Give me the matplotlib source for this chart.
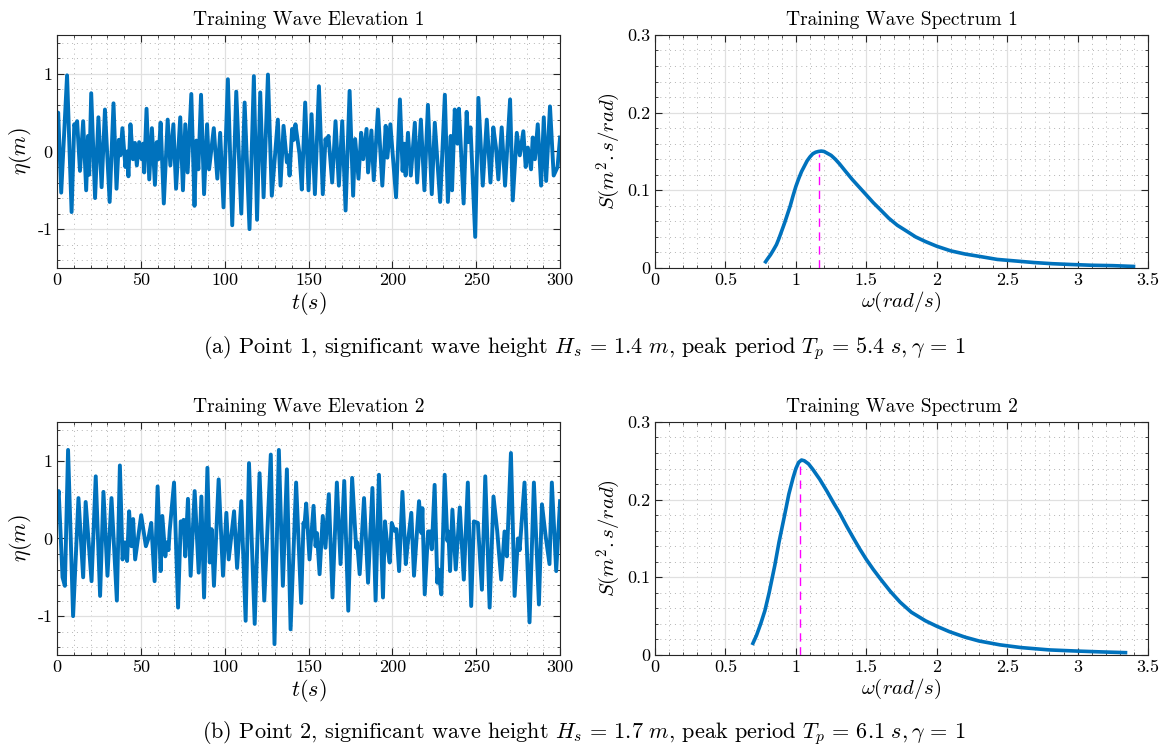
import matplotlib
matplotlib.use("Agg")
import matplotlib.pyplot as plt
from matplotlib.ticker import MultipleLocator

plt.rcParams["font.family"] = ["cmr10", "DejaVu Serif"]
plt.rcParams["mathtext.fontset"] = "cm"
plt.rcParams["axes.unicode_minus"] = False
plt.rcParams["axes.formatter.use_mathtext"] = False

BLUE = "#0072BD"

# wave elevation 1 (turning points)
t1 = [0, 0.7, 2.5, 6, 8.7, 10.3, 11, 12, 13.7, 15.6, 17.4, 18.5, 19.2, 20.4, 22.7,
      24.7, 26.6, 28.6, 31.4, 33.7, 35.5, 36.9, 37.8, 39, 40.8, 41.8, 42.6, 43.8,
      45.3, 46.5, 47.6, 49, 50.5, 51.3, 52, 53.4, 55, 56.6, 58.4, 59.5, 60.5, 61.8,
      63.7, 66, 67.6, 69.4, 71, 73.5, 75.1, 76.5, 77.9, 80.1, 82, 83.1, 84.3, 85.9,
      87.7, 89.5, 90.7, 93.5, 95.6, 97.3, 99.3, 101.9, 104.5, 106.9, 109.9, 111.9,
      114.8, 117.4, 119.3, 121.2, 123.2, 125.8, 128.1, 131.7, 133.3, 135.1, 137.1,
      137.8, 138.7, 140.2, 141.2, 142.2, 144.6, 146, 148, 150, 151.8, 153.8, 156.2,
      158.5, 160.1, 161, 161.9, 164.1, 166.1, 168.1, 170.1, 172.1, 174.5, 176.6,
      177.8, 179.8, 181.4, 182.6, 184.6, 185.5, 187.5, 188.9, 191.4, 194, 196, 197,
      198.8, 202.2, 204.5, 206.1, 207, 207.9, 209.3, 211, 213.4, 214.8, 217, 219.1,
      221.2, 223.5, 225.3, 228.5, 231.3, 233.1, 234.8, 235.6, 237.2, 238.8, 239.7,
      242.5, 244.3, 245.3, 246.6, 249.4, 251.3, 253.9, 256.3, 258.5, 260.2, 261.8,
      263.2, 265.2, 267.2, 270.2, 271.8, 274.2, 276, 278.1, 279.5, 280.8, 282.7,
      283.7, 285, 286.7, 288.7, 290.3, 291.7, 294, 296.2, 298.5, 300]
eta1 = [0.35, 0.5, -0.53, 0.98, -0.78, 0.35, 0.3, 0.39, -0.25, 0.39, -0.5, 0.2, -0.3,
        0.75, -0.6, 0.44, -0.46, 0.54, -0.65, 0.62, -0.48, 0.15, -0.05, 0.3, -0.2, 0.0,
        -0.32, 0.35, -0.1, 0.11, -0.18, 0.12, -0.1, 0.1, -0.27, 0.55, -0.36, 0.3, -0.43,
        0.12, -0.1, 0.37, -0.67, 0.41, -0.18, 0.35, -0.48, 0.44, -0.5, 0.35, -0.27,
        0.74, -0.7, 0.14, -0.23, 0.73, -0.55, 0.35, -0.23, 0.3, -0.35, 0.24, -0.72,
        0.93, -0.95, 0.77, -0.8, 0.63, -1.0, 0.97, -0.88, 0.76, -0.59, 0.99, -0.57,
        0.41, -0.44, 0.33, -0.14, -0.05, -0.31, 0.29, 0.15, 0.35, -0.03, -0.49, 0.63,
        -0.5, 0.48, -0.55, 0.84, -0.55, 0.16, 0.08, 0.2, -0.4, 0.39, -0.44, 0.39,
        -0.76, 0.78, -0.57, 0.16, -0.35, 0.24, -0.1, 0.29, -0.27, 0.27, -0.37, 0.54,
        -0.44, 0.33, -0.08, 0.35, -0.59, 0.67, -0.25, 0.1, -0.31, 0.24, -0.31, 0.37,
        -0.4, 0.41, -0.5, 0.6, -0.55, 0.37, -0.65, 0.73, -0.65, 0.2, -0.5, 0.54, 0.1,
        0.55, -0.67, 0.51, 0.12, 0.31, -1.1, 0.69, -0.44, 0.41, -0.4, 0.31, 0.05,
        -0.36, 0.31, -0.44, 0.67, -0.63, 0.24, -0.05, 0.26, -0.2, 0.05, -0.23, 0.18,
        -0.1, 0.35, -0.44, 0.44, -0.38, 0.58, -0.31, -0.2, 0.18]

# wave elevation 2
t2 = [0, 1, 3.3, 4.7, 6.6, 9.6, 12.8, 15.6, 17.1, 20.6, 23.1, 25.7, 27.7, 30.1, 32.5,
      35.7, 37.5, 39.1, 40.5, 41.8, 43, 44.4, 45.4, 46.6, 50.2, 53, 54.5, 56.2, 58.2,
      60, 61.8, 62.8, 64.6, 65.5, 66.5, 67.2, 69.8, 72.2, 73.8, 74.6, 75.5, 76.5,
      78.1, 79.7, 82.1, 84.5, 86.1, 87.7, 89.7, 91.1, 92.2, 93.6, 96.4, 99, 101,
      102.4, 105.6, 107.4, 109.9, 112.5, 114.5, 117.9, 120.8, 123.6, 127.5, 129.7,
      132.3, 134.7, 137.1, 139.3, 142.6, 145.6, 147, 147.5, 148.6, 150.6, 153, 154.2,
      155, 156.6, 158.5, 160.1, 162.1, 164.3, 166.9, 169.1, 171.3, 173.7, 176, 178.4,
      179, 180.5, 183.1, 185.5, 188.1, 190, 192, 194.4, 195.6, 197, 198.4, 199.6,
      201.2, 202.4, 204, 206, 208, 209, 211.3, 212.9, 215.9, 217.3, 217.9, 219.3,
      221.3, 222.5, 223.5, 225.2, 226.8, 227.5, 229.2, 231.2, 232.8, 233.4, 234.4,
      235.8, 237.8, 240.2, 242.6, 245, 247, 248.6, 251, 253.4, 255.4, 258, 260.3,
      262.5, 264.9, 266.9, 268.3, 270.7, 272.9, 274.9, 275.9, 278.8, 281.8, 284.4,
      287.4, 289.2, 291.4, 293.7, 295.1, 297.7, 300]
eta2 = [0.44, 0.61, -0.5, -0.61, 1.14, -1.0, 0.52, -0.5, 0.47, -0.55, 0.8, -0.74, 0.6,
        -0.48, 0.52, -0.8, 0.94, -0.27, -0.05, -0.29, 0.35, -0.1, 0.25, -0.27, 0.3,
        -0.1, 0.0, 0.2, -0.55, 0.67, -0.42, 0.29, -0.23, -0.05, -0.15, 0.1, 0.72,
        -0.89, 0.22, 0.15, 0.24, -0.23, 0.51, -0.48, 0.61, -0.44, 0.54, -0.76, 0.91,
        -0.31, 0.12, -0.61, 0.76, -0.48, 0.33, -0.27, 0.35, -0.38, 0.48, -1.06, 0.97,
        -1.1, 0.84, -0.8, 1.08, -1.36, 1.14, -0.61, 0.89, -1.17, 0.72, -0.83, 0.2, 0.15,
        0.45, -0.27, 0.42, -0.1, 0.07, -0.46, 0.29, -0.12, 0.57, -0.76, 0.72, -0.33,
        0.74, -0.93, 0.78, -0.12, -0.05, -0.46, 0.52, -0.57, 0.65, -0.8, 0.82, -0.76,
        0.22, -0.1, -0.31, 0.2, 0.1, 0.12, -0.42, 0.6, -0.33, -0.1, 0.33, -0.48, 0.48,
        0.07, 0.39, -0.72, 0.09, 0.09, -0.14, 0.69, -0.57, -0.4, -0.72, 0.82, -0.03,
        0.09, -0.42, 0.37, -0.4, 0.4, -0.53, 0.72, -0.87, 0.22, 0.2, -0.66, 0.8, -0.89,
        0.54, 0.1, -0.53, 0.09, -0.23, 1.1, -0.74, 0.0, -0.15, 0.72, -1.08, 0.72, -0.85,
        0.44, 0.03, -0.33, 0.72, -0.42, 0.48]

# wave spectra
w1 = [0.785, 0.80, 0.82, 0.84, 0.862, 0.88, 0.90, 0.92, 0.94, 0.96, 0.98, 1.00, 1.02,
      1.04, 1.06, 1.08, 1.10, 1.12, 1.14, 1.16, 1.18, 1.20, 1.22, 1.25, 1.28, 1.31,
      1.35, 1.40, 1.45, 1.50, 1.55, 1.60, 1.66, 1.72, 1.79, 1.85, 1.92, 2.00, 2.10,
      2.20, 2.30, 2.43, 2.56, 2.69, 2.82, 2.95, 3.10, 3.25, 3.397]
S1 = [0.008, 0.012, 0.017, 0.023, 0.030, 0.038, 0.048, 0.058, 0.069, 0.080, 0.093,
      0.105, 0.115, 0.124, 0.131, 0.138, 0.143, 0.147, 0.149, 0.150, 0.1505, 0.150,
      0.148, 0.145, 0.140, 0.134, 0.125, 0.114, 0.104, 0.094, 0.084, 0.075, 0.064,
      0.055, 0.047, 0.040, 0.034, 0.028, 0.022, 0.018, 0.015, 0.011, 0.009, 0.007,
      0.0055, 0.0045, 0.0035, 0.003, 0.002]
wp1 = 1.165
Sp1 = 0.147

w2 = [0.695, 0.72, 0.75, 0.78, 0.81, 0.85, 0.88, 0.92, 0.95, 0.98, 1.00, 1.02, 1.04,
      1.06, 1.09, 1.12, 1.17, 1.22, 1.27, 1.31, 1.36, 1.41, 1.455, 1.50, 1.55, 1.60,
      1.67, 1.74, 1.82, 1.92, 2.00, 2.09, 2.20, 2.30, 2.45, 2.60, 2.80, 3.00, 3.16,
      3.34]
S2 = [0.015, 0.025, 0.040, 0.057, 0.080, 0.115, 0.145, 0.180, 0.207, 0.228, 0.240,
      0.248, 0.251, 0.250, 0.246, 0.239, 0.226, 0.211, 0.195, 0.183, 0.166, 0.150,
      0.136, 0.123, 0.110, 0.098, 0.082, 0.068, 0.055, 0.044, 0.037, 0.030, 0.023,
      0.018, 0.013, 0.0095, 0.0065, 0.005, 0.004, 0.003]
wp2 = 1.03
Sp2 = 0.248

captions = [
    r"(a) Point 1, significant wave height $H_s\,=\,1.4\ m$, peak period $T_p\,=\,5.4\ s,\gamma\,=\,1$",
    r"(b) Point 2, significant wave height $H_s\,=\,1.7\ m$, peak period $T_p\,=\,6.1\ s,\gamma\,=\,1$",
]


def style_axes(ax):
    ax.grid(which="major", color="#e0e0e0", linewidth=0.9)
    ax.grid(which="minor", color="#b4b4b4", linestyle=(0, (1, 4)), linewidth=0.7)
    ax.set_axisbelow(True)
    ax.tick_params(which="both", direction="in", top=True, right=True,
                   labelsize=13, colors="#262626")
    ax.tick_params(which="major", length=5)
    ax.tick_params(which="minor", length=2.5)
    for s in ax.spines.values():
        s.set_color("#262626")
        s.set_linewidth(0.8)
    for lab in ax.get_xticklabels() + ax.get_yticklabels():
        lab.set_color("black")


fig = plt.figure(figsize=(11.68, 7.5), dpi=100)

rows = [(t1, eta1, w1, S1, wp1, Sp1, 0.6427), (t2, eta2, w2, S2, wp2, Sp2, 0.1267)]
for i, (t, eta, w, S, wp, Sp, bottom) in enumerate(rows):
    ax = fig.add_axes([0.0488, bottom, 0.4307, 0.3107])
    ax.plot(t, eta, color=BLUE, linewidth=2.8, solid_joinstyle="round")
    ax.set_xlim(0, 300)
    ax.set_ylim(-1.5, 1.5)
    ax.set_xticks([0, 50, 100, 150, 200, 250, 300])
    ax.set_yticks([-1, 0, 1])
    ax.set_yticklabels(["-1", "0", "1"])
    ax.xaxis.set_minor_locator(MultipleLocator(10))
    ax.yaxis.set_minor_locator(MultipleLocator(0.2))
    ax.set_title(f"Training Wave Elevation {i + 1}", fontsize=14, pad=7)
    ax.set_xlabel(r"$t(s)$", fontsize=16, labelpad=1)
    ax.set_ylabel(r"$\eta(m)$", fontsize=16, labelpad=2)
    style_axes(ax)

    ax = fig.add_axes([0.5608, bottom, 0.4221, 0.3107])
    ax.plot(w, S, color=BLUE, linewidth=2.6, solid_joinstyle="round")
    ax.plot([wp, wp], [0, Sp], color="#FF00FF", linestyle=(0, (6, 4)), linewidth=1)
    ax.set_xlim(0, 3.5)
    ax.set_ylim(0, 0.3)
    ax.set_xticks([0, 0.5, 1, 1.5, 2, 2.5, 3, 3.5])
    ax.set_xticklabels(["0", "0.5", "1", "1.5", "2", "2.5", "3", "3.5"])
    ax.set_yticks([0, 0.1, 0.2, 0.3])
    ax.set_yticklabels(["0", "0.1", "0.2", "0.3"])
    ax.xaxis.set_minor_locator(MultipleLocator(0.1))
    ax.yaxis.set_minor_locator(MultipleLocator(0.02))
    ax.set_title(f"Training Wave Spectrum {i + 1}", fontsize=14, pad=7)
    ax.set_xlabel(r"$\omega(rad/s)$", fontsize=15, labelpad=1)
    ax.set_ylabel(r"$S(m^2.s/rad)$", fontsize=15, labelpad=3)
    style_axes(ax)

fig.text(0.5, 1 - 348 / 750, captions[0], ha="center", va="center", fontsize=16)
fig.text(0.5, 1 - 733 / 750, captions[1], ha="center", va="center", fontsize=16)

fig.savefig("out.png", dpi=100, facecolor="white")
